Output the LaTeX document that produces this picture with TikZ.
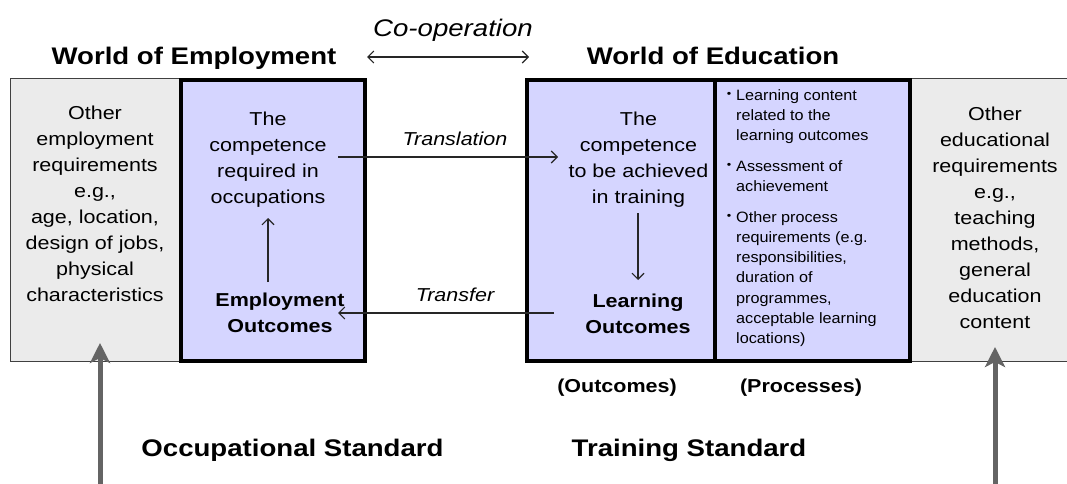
\documentclass[tikz,border=0pt]{standalone}
\usepackage{fontspec}
\setmainfont[FakeStretch=1.15]{Liberation Sans}
\newfontfamily\bulfont[FakeStretch=1.08]{Liberation Sans}
\usetikzlibrary{arrows.meta}
\definecolor{lav}{HTML}{D5D5FF}
\definecolor{lgrey}{HTML}{EBEBEB}
\definecolor{agrey}{HTML}{646464}
\tikzset{
 body/.style={align=center, inner sep=0pt, font=\fontsize{18.7}{26}\selectfont},
 bodyb/.style={align=center, inner sep=0pt, font=\fontsize{18.7}{26}\selectfont\bfseries},
 lbl/.style={inner sep=0pt, anchor=base, font=\fontsize{18.7}{22}\selectfont\itshape},
 toplbl/.style={inner sep=0pt, anchor=base, font=\fontsize{24}{28}\selectfont\itshape},
 title/.style={inner sep=0pt, anchor=base, font=\fontsize{24}{28}\selectfont\bfseries},
 sublbl/.style={inner sep=0pt, anchor=base, font=\fontsize{18.7}{22}\selectfont\bfseries},
 bultext/.style={inner sep=0pt, anchor=north west, align=left, font=\bulfont\fontsize{15}{20.3}\selectfont},
 bulletdot/.style={inner sep=0pt, anchor=center, font=\fontsize{11}{12}\selectfont},
 greybox/.style={fill=lgrey, draw=black!75, line width=1pt},
 purplebox/.style={fill=lav, draw=black, line width=4pt},
 thinarrow/.style={draw=black!85, line width=1.1pt, arrows={-Straight Barb[length=6pt,width=12pt]}},
 twoarrow/.style={draw=black!85, line width=1.1pt, arrows={Straight Barb[length=6pt,width=12pt]-Straight Barb[length=6pt,width=12pt]}},
 bigarrow/.style={draw=agrey, line width=5pt, arrows={-Stealth[length=20pt,width=20pt,inset=5pt]}},
}
\begin{document}
\begin{tikzpicture}[x=1pt,y=-1pt]
\useasboundingbox (0,0) rectangle (1067,484);
% boxes
\draw[greybox] (10,79) rectangle (179,361);
\draw[greybox] (910,79) rectangle (1080,361);
\draw[purplebox] (181,80) rectangle (365,361);
\draw[purplebox] (527,80) rectangle (910,361);
\draw[line width=4pt] (715,80) -- (715,361);
% titles
\node[title] (woe) at (194,65) {World of Employment};
\node[title] (wed) at (713,65) {World of Education};
\node[toplbl] (coop) at (453,36.7) {Co-operation};
% box texts
\node[body] (oer) at (95,204.2) {Other\\employment\\requirements\\e.g.,\\age, location,\\design of jobs,\\physical\\characteristics};
\node[body] (cro) at (268,159.2) {The\\competence\\required in\\occupations};
\node[bodyb] (eo) at (280,313.2) {Employment\\Outcomes};
\node[body] (cat) at (638.5,159.2) {The\\competence\\to be achieved\\in training};
\node[bodyb] (lo) at (638,314.2) {Learning\\Outcomes};
\node[body] (oedr) at (995,217.7) {Other\\educational\\requirements\\e.g.,\\teaching\\methods,\\general\\education\\content};
% bullets
\node[bulletdot] (d1) at (729,94.5) {•};
\node[bultext] (b1) at (736,89.3) {Learning content\\related to the\\learning outcomes};
\node[bulletdot] (d2) at (729,165.5) {•};
\node[bultext] (b2) at (736,160.3) {Assessment of\\achievement};
\node[bulletdot] (d3) at (729,216.5) {•};
\node[bultext] (b3) at (736,211) {Other process\\requirements (e.g.\\responsibilities,\\duration of\\programmes,\\acceptable learning\\locations)};
% labels
\node[lbl] (trl) at (455,145) {Translation};
\node[lbl] (trf) at (455,301) {Transfer};
\node[sublbl] (outc) at (617,392) {(Outcomes)};
\node[sublbl] (proc) at (801,392) {(Processes)};
\node[title] (occ) at (292.5,456) {Occupational Standard};
\node[title] (trs) at (689,456) {Training Standard};
% arrow end points
\coordinate (co1) at (367,57);
\coordinate (co2) at (529,57);
\coordinate (ta) at (338,157);
\coordinate (tb) at (558,157);
\coordinate (fa) at (554,313);
\coordinate (fb) at (338,313);
\coordinate (ua) at (268,282);
\coordinate (ub) at (268,218);
\coordinate (da) at (638,213);
\coordinate (db) at (638,280);
\coordinate (la) at (100,484);
\coordinate (lb) at (100,343);
\coordinate (ra) at (995,484);
\coordinate (rb) at (995,347);
% arrows
\draw[twoarrow] (co1) -- (co2);
\draw[thinarrow] (ta) -- (tb);
\draw[thinarrow] (fa) -- (fb);
\draw[thinarrow] (ua) -- (ub);
\draw[thinarrow] (da) -- (db);
\draw[bigarrow] (la) -- (lb);
\draw[bigarrow] (ra) -- (rb);
\end{tikzpicture}
\end{document}
